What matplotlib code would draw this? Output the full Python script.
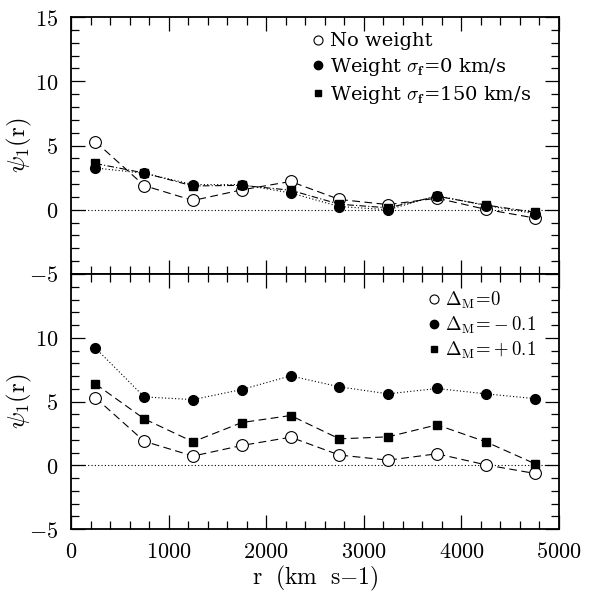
import matplotlib
matplotlib.use("Agg")
import matplotlib.pyplot as plt
from matplotlib.ticker import MultipleLocator, FuncFormatter
from matplotlib.lines import Line2D

plt.rcParams['mathtext.fontset'] = 'cm'
plt.rcParams['font.family'] = 'serif'
plt.rcParams['font.serif'] = ['DejaVu Serif']

r = [250, 750, 1250, 1750, 2250, 2750, 3250, 3750, 4250, 4750]

# Top panel
no_weight = [5.3, 1.88, 0.72, 1.55, 2.2, 0.8, 0.4, 0.9, 0.03, -0.64]
weight_s0 = [3.25, 2.84, 1.96, 1.96, 1.31, 0.25, 0.0, 1.1, 0.33, -0.3]
weight_s150 = [3.6, 2.86, 1.85, 1.9, 1.52, 0.43, 0.15, 1.05, 0.37, -0.2]

# Bottom panel
dm_0 = [5.3, 1.88, 0.72, 1.55, 2.2, 0.8, 0.4, 0.9, 0.03, -0.64]
dm_m01 = [9.2, 5.36, 5.15, 5.94, 7.01, 6.15, 5.6, 6.02, 5.6, 5.23]
dm_p01 = [6.38, 3.64, 1.84, 3.35, 3.9, 2.07, 2.23, 3.17, 1.84, 0.13]

top_labels = ['No weight', r'Weight $\sigma_{\mathbf{f}}$=0 km/s', r'Weight $\sigma_{\mathbf{f}}$=150 km/s']
bot_labels = [r'$\Delta_{\rm M}\!=\!0$', r'$\Delta_{\rm M}\!=\!-0.1$', r'$\Delta_{\rm M}\!=\!+0.1$']

fig = plt.figure(figsize=(6.13, 5.92), dpi=100)
L, R = 71/613, 559/613
ax1 = fig.add_axes([L, 1-274/592, R-L, (274-17)/592])
ax2 = fig.add_axes([L, 1-529/592, R-L, (529-274)/592])

dash = (0, (7, 4))
dot = (0, (1, 2))
dashdot = (0, (6, 2, 1, 2))

def mfmt(v, pos):
    s = f"{int(round(v))}"
    return r'$\mathrm{' + s + '}$'

for ax in (ax1, ax2):
    ax.set_xlim(0, 5000)
    ax.set_ylim(-5, 15)
    ax.axhline(0, color='k', lw=0.8, ls=(0, (1, 2)))
    ax.xaxis.set_major_locator(MultipleLocator(1000))
    ax.xaxis.set_minor_locator(MultipleLocator(200))
    ax.yaxis.set_major_locator(MultipleLocator(5))
    ax.yaxis.set_minor_locator(MultipleLocator(1))
    ax.tick_params(which='both', direction='in', top=True, right=True, width=0.9)
    ax.tick_params(which='major', length=10, labelsize=16, pad=9)
    ax.tick_params(which='minor', length=5.5)
    for s in ax.spines.values():
        s.set_linewidth(1.3)
    ax.yaxis.set_major_formatter(FuncFormatter(mfmt))
    ax.xaxis.set_major_formatter(FuncFormatter(mfmt))
    ax.set_ylabel(r'$\psi_1(\mathrm{r})$', fontsize=18)
    ax.yaxis.set_label_coords(-0.075, 0.5)

ax1.tick_params(labelbottom=False)

ms_o, ms_c, ms_s = 8.5, 7, 5.5
ax1.plot(r, no_weight, ls=dash, color='k', lw=0.8, marker='o', mfc='white', mec='k', ms=ms_o, mew=0.8)
ax1.plot(r, weight_s0, ls=dot, color='k', lw=0.8, marker='o', mfc='k', mec='k', ms=ms_c)
ax1.plot(r, weight_s150, ls=dashdot, color='k', lw=0.8, marker='s', mfc='k', mec='k', ms=ms_s)

ax2.plot(r, dm_0, ls=dash, color='k', lw=0.8, marker='o', mfc='white', mec='k', ms=ms_o, mew=0.8)
ax2.plot(r, dm_m01, ls=dot, color='k', lw=0.8, marker='o', mfc='k', mec='k', ms=ms_c)
ax2.plot(r, dm_p01, ls=dash, color='k', lw=0.8, marker='s', mfc='k', mec='k', ms=ms_s)

ax2.set_yticks([-5, 0, 5, 10, 15])
ax2.set_yticklabels([r'$\mathrm{-5}$', r'$\mathrm{0}$', r'$\mathrm{5}$', r'$\mathrm{10}$', ''])
ax2.set_xlabel(r'$\mathrm{r\ \ (km\ \ s{-}1)}$', fontsize=17, labelpad=0)

def handles():
    return [Line2D([], [], ls='none', marker='o', mfc='white', mec='k', ms=6.5, mew=0.8),
            Line2D([], [], ls='none', marker='o', mfc='k', mec='k', ms=6),
            Line2D([], [], ls='none', marker='s', mfc='k', mec='k', ms=4.5)]

ax1.legend(handles(), top_labels, loc='upper left', bbox_to_anchor=(0.475, 0.978), frameon=False,
           fontsize=14, handlelength=0.6, handletextpad=0.3, labelspacing=0.3, borderpad=0)
ax2.legend(handles(), bot_labels, loc='upper left', bbox_to_anchor=(0.713, 0.975), frameon=False,
           fontsize=13.5, handlelength=0.6, handletextpad=0.3, labelspacing=0.2, borderpad=0)

fig.savefig('out.png', dpi=100)
